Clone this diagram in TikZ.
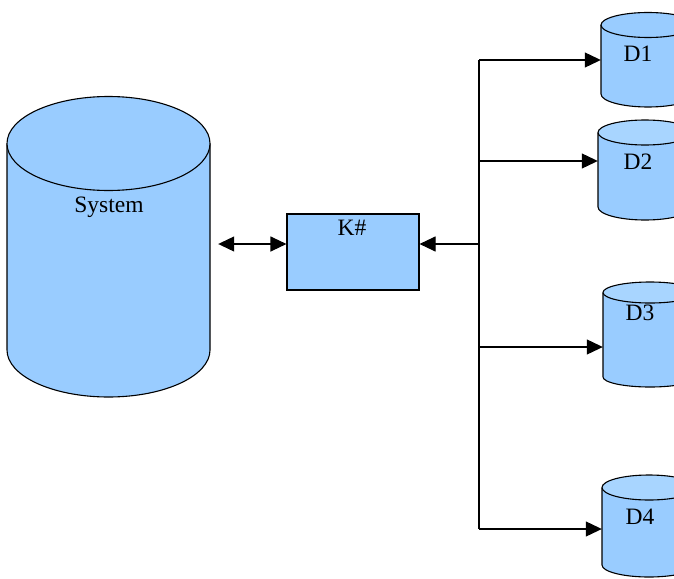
\documentclass[tikz,border=0pt]{standalone}
\usepackage{fontspec}
\setmainfont{Liberation Serif}
\usetikzlibrary{arrows.meta}
\definecolor{dbblue}{HTML}{99CCFF}
\definecolor{dbtop}{HTML}{A8D5FF}
\tikzset{
  outline/.style={draw=black, line width=1.1pt},
  txt/.style={inner sep=0pt, font=\fontsize{23.5}{27}\selectfont},
  holder/.style={inner sep=0pt, draw=none},
  arr/.style={line width=1.1pt, -{Triangle[length=16pt,width=15pt]}},
  arrboth/.style={line width=1.1pt, {Triangle[length=16pt,width=15pt]}-{Triangle[length=16pt,width=15pt]}},
  wire/.style={line width=1.1pt}
}
% \drum{left x}{x radius}{top centre y}{bottom centre y}{top y radius}{bottom y radius}{top fill}
\newcommand\drum[7]{%
  \fill[dbblue] (#1,-#3) -- (#1,-#4)
    arc[start angle=180,end angle=360,x radius=#2,y radius=#6]
    -- ({#1+2*#2},-#3)
    arc[start angle=0,end angle=180,x radius=#2,y radius=#5] -- cycle;
  \draw[outline] (#1,-#3) -- (#1,-#4)
    arc[start angle=180,end angle=360,x radius=#2,y radius=#6]
    -- ({#1+2*#2},-#3);
  \filldraw[outline, fill=#7] ({#1+#2},-#3) ellipse[x radius=#2,y radius=#5];
}
\begin{document}
\begin{tikzpicture}[x=1pt,y=1pt]
\useasboundingbox (0,0) rectangle (674,-578);
\fill[white] (0,0) rectangle (674,-578);
\clip (0,0) rectangle (674,-578);

% database drums
\drum{7}{101.5}{143.5}{350}{47}{47}{dbblue}
\drum{601}{47}{25}{94}{12.5}{13}{dbblue}
\drum{598}{47}{132.5}{207}{12.5}{13}{dbtop}
\drum{603}{47}{292.5}{377}{10.5}{10}{dbtop}
\drum{602}{47}{487.5}{565}{12.5}{12}{dbtop}

% placeholders spanning each drum
\node[holder, minimum width=203pt, minimum height=300pt] (sys) at (108.5,-247) {};
\node[holder, minimum width=94pt, minimum height=94pt] (d1) at (648,-60) {};
\node[holder, minimum width=94pt, minimum height=100pt] (d2) at (645,-170) {};
\node[holder, minimum width=94pt, minimum height=105pt] (d3) at (650,-334.5) {};
\node[holder, minimum width=94pt, minimum height=102pt] (d4) at (649,-526) {};

% labels
\node[txt] (syslabel) at (109,-207) {System};
\node[txt] (d1label) at (638,-54) {D1};
\node[txt] (d2label) at (638,-162) {D2};
\node[txt] (d3label) at (640,-313) {D3};
\node[txt] (d4label) at (640,-517) {D4};

% K# box
\node[outline, fill=dbblue, minimum width=132pt, minimum height=76pt, inner sep=0pt] (k) at (353,-252) {};
\node[txt] (klabel) at (352,-228) {K\#};

% distribution trunk
\coordinate (t1) at (479,-60);
\coordinate (t2) at (479,-161);
\coordinate (j) at (479,-244);
\coordinate (t3) at (479,-347);
\coordinate (t4) at (479,-529);
\draw[wire] (t1) -- (t4);
\draw[arr] (t1) -- (d1.west |- t1);
\draw[arr] (t2) -- (d2.west |- t2);
\draw[arr] (t3) -- (d3.west |- t3);
\draw[arr] (t4) -- (d4.west |- t4);
\draw[arr] (j) -- (k.east |- j);
\draw[arrboth] ([xshift=8pt]sys.east |- j) -- (k.west |- j);
\end{tikzpicture}
\end{document}
